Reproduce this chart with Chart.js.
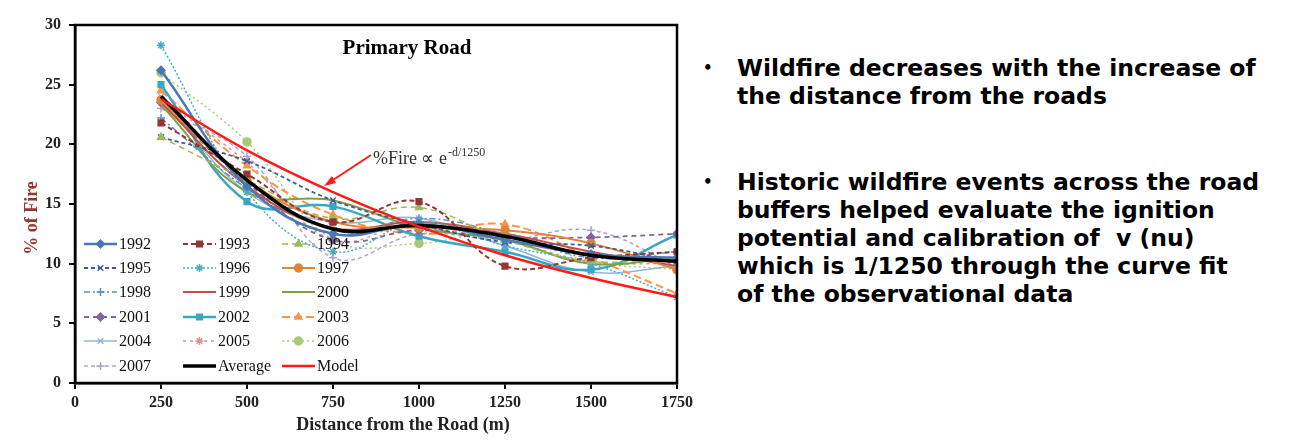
<!DOCTYPE html>
<html>
<head>
<meta charset="utf-8">
<script src="https://cdn.jsdelivr.net/npm/chart.js@4.4.1/dist/chart.umd.min.js"></script>
<style>
  body { margin: 0; background: #fff; width: 1290px; height: 442px; overflow: hidden; position: relative; }
  #wrap { position: absolute; left: 0; top: 0; width: 700px; height: 442px; }
  .txt { position: absolute; left: 703px; font-family: "DejaVu Sans", Verdana, sans-serif; font-weight: bold; font-size: 23.5px; line-height: 28px; color: #000; white-space: nowrap; }
  .txt .b { position: absolute; left: 0; font-size: 15px; }
  .txt .t { position: absolute; left: 34px; }
</style>
</head>
<body>
<div id="wrap"><canvas id="myChart"></canvas></div>

<div class="txt" style="top:54px">
  <span class="b">&bull;</span>
  <span class="t">Wildfire decreases with the increase of<br>the distance from the roads</span>
</div>
<div class="txt" style="top:168px">
  <span class="b">&bull;</span>
  <span class="t">Historic wildfire events across the road<br>buffers helped evaluate the ignition<br>potential and calibration of &nbsp;v (nu)<br>which is 1/1250 through the curve fit<br>of the observational data</span>
</div>

<script>
// distances from the road (m)
var distances = [250, 500, 750, 1000, 1250, 1500, 1750];
var xTicks = [0, 250, 500, 750, 1000, 1250, 1500, 1750];
var yTicks = [0, 5, 10, 15, 20, 25, 30];

// % of fire per year
var v1992 = [26.2, 16.5, 12.5, 13.3, 12.0, 10.8, 10.5];
var v1993 = [21.8, 17.5, 13.5, 15.2, 9.8, 10.5, 11.0];
var v1994 = [20.6, 17.0, 13.8, 14.7, 12.0, 10.2, 10.5];
var v1995 = [20.6, 18.6, 15.3, 13.3, 11.8, 11.5, 10.2];
var v1996 = [28.3, 16.0, 11.0, 13.5, 11.5, 10.0, 7.2];
var v1997 = [23.7, 17.0, 13.5, 13.0, 12.8, 11.7, 9.5];
var v1998 = [22.2, 16.3, 12.5, 13.8, 12.5, 10.5, 11.0];
var v1999 = [23.5, 16.5, 13.0, 13.5, 12.5, 11.0, 9.8];
var v2000 = [23.3, 16.0, 15.3, 13.0, 12.0, 10.0, 10.5];
var v2001 = [23.5, 16.8, 12.0, 12.8, 12.2, 12.2, 12.5];
var v2002 = [25.0, 15.2, 14.8, 12.3, 11.0, 9.5, 12.4];
var v2003 = [24.5, 18.2, 14.1, 12.5, 13.3, 10.5, 7.5];
var v2004 = [24.0, 16.0, 13.5, 13.8, 11.5, 9.3, 9.8];
var v2005 = [23.8, 18.5, 12.0, 13.5, 12.0, 10.2, 10.0];
var v2006 = [26.0, 20.2, 12.0, 11.7, 12.5, 10.2, 9.5];
var v2007 = [23.0, 19.0, 10.5, 12.5, 12.0, 12.8, 9.8];
var average = [24.0, 17.0, 12.9, 13.2, 12.3, 10.7, 10.2];
var model = [23.8, 19.5, 16.0, 13.1, 10.7, 8.8, 7.2];

var years = ['1992','1993','1994','1995','1996','1997','1998','1999','2000','2001','2002','2003','2004','2005','2006','2007'];
var yearValues = [v1992, v1993, v1994, v1995, v1996, v1997, v1998, v1999, v2000, v2001, v2002, v2003, v2004, v2005, v2006, v2007];

// look of each year series
var colors = ['#4a78b5','#943634','#9bbb59','#3d5a9a','#4bacc6','#e0843a','#5b8fd0','#c0504d','#7fa043','#8064a2','#3aa7c2','#f79646','#95b3d7','#d99694','#a9c97a','#b3a2c7'];
var dashes = [[], [5,3], [6,4], [4,3], [2,2], [], [6,3,2,3], [], [], [5,4], [], [8,4], [], [3,4], [2,3], [4,3]];
var markers = ['rectRot','rect','triangle','crossRot','star','circle','cross','line',false,'rectRot','rect','triangle','crossRot','star','circle','cross'];
var widths = [2.5, 2, 1.5, 1.8, 1.5, 2, 1.5, 2, 2, 1.8, 2.5, 2, 1.5, 1.5, 1.5, 1.5];

function pts(vals) {
  return vals.map(function (v, i) { return { x: distances[i], y: v }; });
}

var datasets = years.map(function (y, i) {
  return {
    label: y,
    data: pts(yearValues[i]),
    borderColor: colors[i],
    backgroundColor: colors[i],
    borderWidth: widths[i],
    borderDash: dashes[i],
    pointStyle: markers[i],
    pointRadius: markers[i] ? 4 : 0,
    pointBorderWidth: 1.5,
    tension: 0.4
  };
});
datasets.push({
  label: 'Average', data: pts(average), borderColor: '#000', backgroundColor: '#000',
  borderWidth: 3.5, pointRadius: 0, tension: 0.4, order: -1
});
datasets.push({
  label: 'Model', data: pts(model), borderColor: '#ff1a1a', backgroundColor: '#ff1a1a',
  borderWidth: 2.5, pointRadius: 0, tension: 0.4, order: -2
});

var serif = '"Liberation Serif", "Times New Roman", serif';

var extras = {
  id: 'extras',
  afterDatasetsDraw: function (chart) {
    var ctx = chart.ctx;
    var a = chart.chartArea;
    ctx.save();
    // title inside plot
    ctx.fillStyle = '#000';
    ctx.font = 'bold 21px ' + serif;
    ctx.textAlign = 'center';
    ctx.textBaseline = 'middle';
    ctx.fillText('Primary Road', 407, 49);

    // axis titles
    ctx.fillStyle = '#222';
    ctx.font = 'bold 18px ' + serif;
    ctx.fillText('Distance from the Road (m)', 403, 425);
    ctx.save();
    ctx.translate(32, 218);
    ctx.rotate(-Math.PI / 2);
    ctx.fillStyle = '#943634';
    ctx.fillText('% of Fire', 0, 0);
    ctx.restore();

    // model formula + arrow
    ctx.strokeStyle = '#ff1a1a';
    ctx.fillStyle = '#ff1a1a';
    ctx.lineWidth = 2;
    ctx.beginPath();
    ctx.moveTo(371, 155);
    ctx.lineTo(327, 184);
    ctx.stroke();
    ctx.beginPath();
    ctx.moveTo(324, 186);
    ctx.lineTo(332, 176);
    ctx.lineTo(336, 183);
    ctx.closePath();
    ctx.fill();
    ctx.fillStyle = '#333';
    ctx.textAlign = 'left';
    ctx.textBaseline = 'alphabetic';
    ctx.font = '18px ' + serif;
    var s = '%Fire \u221D e';
    ctx.fillText(s, 373, 164);
    var w = ctx.measureText(s).width;
    ctx.font = '12px ' + serif;
    ctx.fillText('-d/1250', 373 + w + 1, 156);

    // legend inside plot, 3 columns
    var colX = [84, 183, 282];
    var rowY = [244, 268, 292, 317, 341, 366];
    chart.data.datasets.forEach(function (ds, i) {
      var x = colX[i % 3], y = rowY[Math.floor(i / 3)];
      ctx.save();
      ctx.strokeStyle = ds.borderColor;
      ctx.lineWidth = ds.borderWidth;
      ctx.setLineDash(ds.borderDash || []);
      ctx.beginPath();
      ctx.moveTo(x, y);
      ctx.lineTo(x + 33, y);
      ctx.stroke();
      ctx.setLineDash([]);
      if (ds.pointStyle && ds.pointRadius) {
        ctx.fillStyle = ds.backgroundColor;
        ctx.strokeStyle = ds.borderColor;
        ctx.lineWidth = 1.5;
        Chart.helpers.drawPoint(ctx, {
          pointStyle: ds.pointStyle, radius: 4, rotation: 0, borderWidth: 1.5
        }, x + 16.5, y);
      }
      ctx.restore();
      ctx.fillStyle = '#111';
      ctx.font = '16px ' + serif;
      ctx.textAlign = 'left';
      ctx.textBaseline = 'middle';
      ctx.fillText(ds.label, x + 35, y + 1);
    });

    // plot frame
    ctx.strokeStyle = '#000';
    ctx.lineWidth = 2.5;
    ctx.strokeRect(a.left, a.top, a.right - a.left, a.bottom - a.top);
    ctx.restore();
  }
};

var ctx = document.getElementById('myChart');
var lineChart = new Chart(ctx, {
  type: 'line',
  data: { datasets: datasets },
  plugins: [extras],
  options: {
    responsive: true,
    maintainAspectRatio: false,
    animation: false,
    layout: { padding: { top: 25, right: 23, left: 0, bottom: 0 } },
    plugins: { legend: { display: false }, tooltip: { enabled: false } },
    scales: {
      x: {
        type: 'linear', min: 0, max: 1750,
        afterBuildTicks: function (s) { s.ticks = xTicks.map(function (v) { return { value: v }; }); },
        afterFit: function (s) { s.height = 59; },
        grid: { drawOnChartArea: false, drawTicks: true, tickLength: 6, color: '#000', lineWidth: 2 },
        border: { display: true, color: '#000', width: 2.5 },
        ticks: { color: '#222', font: { family: serif, size: 16, weight: 'bold' }, padding: 4, maxRotation: 0,
                 callback: function (v) { return String(v); } }
      },
      y: {
        min: 0, max: 30,
        afterBuildTicks: function (s) { s.ticks = yTicks.map(function (v) { return { value: v }; }); },
        afterFit: function (s) { s.width = 75; },
        grid: { drawOnChartArea: false, drawTicks: true, tickLength: 6, color: '#000', lineWidth: 2 },
        border: { display: true, color: '#000', width: 2.5 },
        ticks: { color: '#222', font: { family: serif, size: 16, weight: 'bold' }, padding: 8 }
      }
    }
  }
});
</script>
</body>
</html>
